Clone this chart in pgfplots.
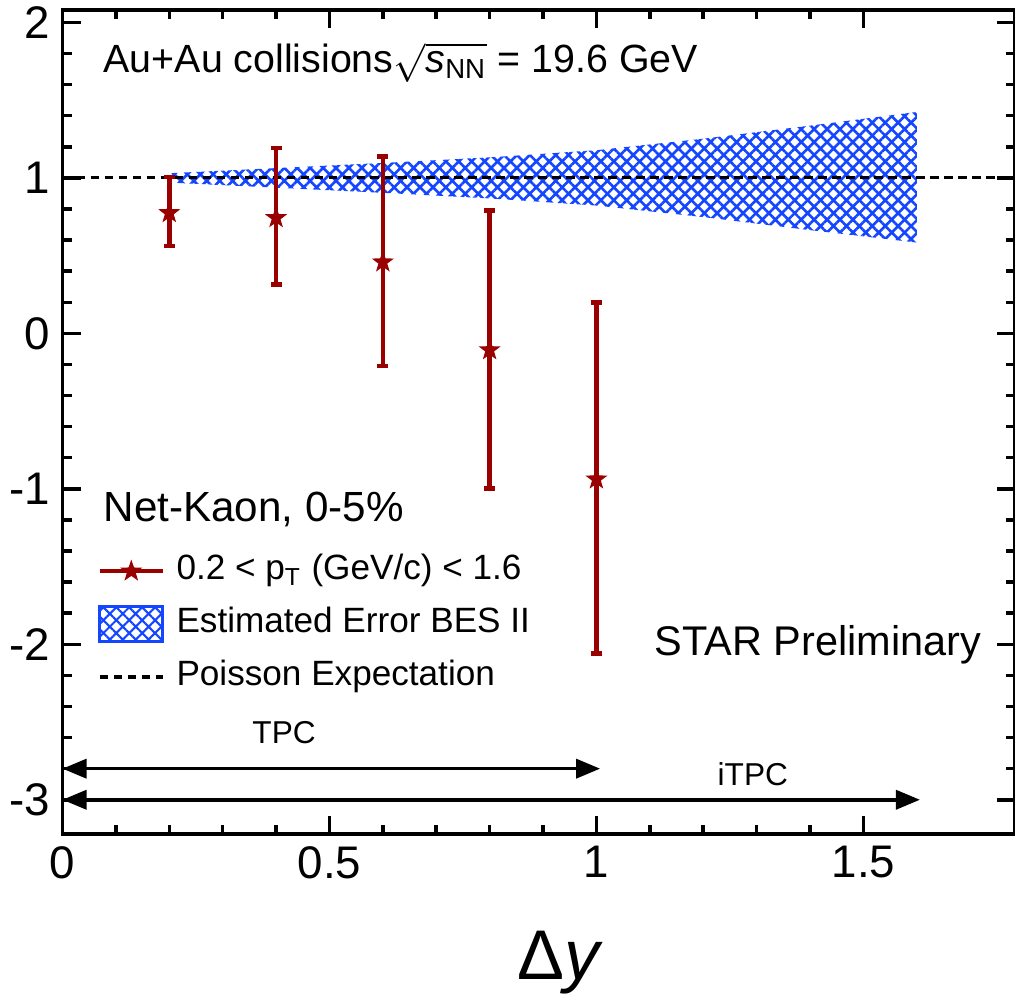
\documentclass[border=0pt]{standalone}
\usepackage{fontspec}
\setmainfont{Liberation Sans}
\usepackage{amsmath}
\usepackage{pgfplots}
\pgfplotsset{compat=1.18}
\usepackage{pgfplotstable}
\usetikzlibrary{patterns.meta,arrows.meta}
\definecolor{dred}{RGB}{153,0,0}
\definecolor{hblue}{RGB}{20,70,255}

\pgfdeclareplotmark{fstar}{%
  \pgfpathmoveto{\pgfpointpolar{90}{\pgfplotmarksize}}%
  \pgfpathlineto{\pgfpointpolar{126}{0.4\pgfplotmarksize}}%
  \pgfpathlineto{\pgfpointpolar{162}{\pgfplotmarksize}}%
  \pgfpathlineto{\pgfpointpolar{198}{0.4\pgfplotmarksize}}%
  \pgfpathlineto{\pgfpointpolar{234}{\pgfplotmarksize}}%
  \pgfpathlineto{\pgfpointpolar{270}{0.4\pgfplotmarksize}}%
  \pgfpathlineto{\pgfpointpolar{306}{\pgfplotmarksize}}%
  \pgfpathlineto{\pgfpointpolar{342}{0.4\pgfplotmarksize}}%
  \pgfpathlineto{\pgfpointpolar{18}{\pgfplotmarksize}}%
  \pgfpathlineto{\pgfpointpolar{54}{0.4\pgfplotmarksize}}%
  \pgfpathclose
  \pgfusepathqfillstroke
}

\pgfplotstableread{
x     y       ep     em
0.2   0.775   0.230  0.214
0.4   0.743   0.450  0.428
0.6   0.458   0.681  0.668
0.8  -0.107   0.897  0.890
1.0  -0.938   1.135  1.122
}\kaon

\pgfplotstableread{
x     y
0.2   1.030
0.4   1.063
0.6   1.096
0.8   1.132
1.0   1.178
1.2   1.252
1.4   1.336
1.6   1.424
1.6   0.584
1.4   0.664
1.2   0.748
1.0   0.822
0.8   0.868
0.6   0.904
0.4   0.937
0.2   0.970
}\band

\begin{document}
\begin{tikzpicture}
\begin{axis}[
  name=ax,
  scale only axis,
  width=95.25mm, height=82.4mm,
  xmin=0, xmax=1.784, ymin=-3.22, ymax=2.08,
  clip=false,
  xtick={0,0.5,1,1.5}, xticklabels={0,0.5,1,1.5},
  ytick={-3,-2,-1,0,1,2}, yticklabels={-3,-2,-1,0,1,2},
  minor x tick num=4, minor y tick num=4,
  tick align=inside,
  major tick length=1.8mm, minor tick length=0.9mm,
  axis line style={line width=1pt},
  every tick/.style={black, line width=1pt},
  tick label style={font=\fontsize{13}{15}\selectfont},
  /pgf/number format/assume math mode=true,
  legend style={draw=none, fill=none, inner sep=0pt,
    at={(axis cs:0.0646,-1.413)}, anchor=north west,
    nodes={inner sep=0pt, text height=2.6mm, text depth=0.9mm, font=\fontsize{10}{12}\selectfont},
    row sep=1.65mm},
  legend cell align=left,
]
\addlegendimage{legend image code/.code={
    \draw[dred, line width=1.2pt] (0mm,0mm) -- (6.3mm,0mm);
    \path[dred, fill=dred, line width=0.4pt] plot[mark=fstar, mark size=2.7pt] coordinates {(3.15mm,0mm)};
    \path (7.6mm,0mm);}}
\addlegendentry{0.2 < p\textsubscript{T} (GeV/c) < 1.6}
\addlegendimage{legend image code/.code={
    \path[pattern={Hatch[angle=45,distance=2.6pt,line width=0.6pt]}, pattern color=hblue] (0mm,-1.75mm) rectangle (6.3mm,1.75mm);
    \draw[hblue, line width=0.8pt] (0mm,-1.75mm) rectangle (6.3mm,1.75mm);
    \path (7.6mm,0mm);}}
\addlegendentry{Estimated Error BES II}
\addlegendimage{legend image code/.code={
    \draw[black, line width=0.9pt, dash pattern=on 0.85mm off 0.55mm] (0mm,0mm) -- (6.3mm,0mm);
    \path (7.6mm,0mm);}}
\addlegendentry{Poisson Expectation}

% band
\addplot[draw=none, pattern={Hatch[angle=45,distance=2.6pt,line width=0.75pt]}, pattern color=hblue, forget plot]
  table[x=x, y=y] {\band} -- cycle;
% Poisson line
\addplot[black, line width=0.9pt, dash pattern=on 0.85mm off 0.55mm, forget plot]
  coordinates {(0,1) (1.784,1)};
% data
\addplot[dred, only marks, mark=fstar, mark size=2.7pt,
  mark options={solid, fill=dred, line width=0.4pt},
  forget plot,
  error bars/.cd, y dir=both, y explicit,
  error mark=-,
  error bar style={line width=1.3pt, dred},
  error mark options={rotate=90, line width=1.3pt, mark size=0.55mm, dred}]
  table[x=x, y=y, y error plus=ep, y error minus=em] {\kaon};

% arrows
\draw[{Triangle[length=2.4mm,width=1.9mm]}-{Triangle[length=2.4mm,width=1.9mm]}, line width=1pt]
  (axis cs:0,-2.80) -- (axis cs:1.007,-2.80);
\draw[{Triangle[length=2.4mm,width=1.9mm]}-{Triangle[length=2.4mm,width=1.9mm]}, line width=1pt]
  (axis cs:0,-3.0) -- (axis cs:1.606,-3.0);
\node[anchor=base, font=\fontsize{9}{11}\selectfont] at (axis cs:0.415,-2.64) {TPC};
\node[anchor=base, font=\fontsize{9}{11}\selectfont] at (axis cs:1.293,-2.91) {iTPC};

% texts
\node[anchor=base west, inner sep=0pt, font=\fontsize{11.2}{13}\selectfont] at (axis cs:0.0758,1.676)
  {Au+Au collisions$\sqrt{\textit{s}_{\text{NN}}}$ = 19.6 GeV};
\node[anchor=base west, inner sep=0pt, font=\fontsize{12}{14}\selectfont] at (axis cs:0.0758,-1.207)
  {Net-Kaon, 0-5\%};
\node[anchor=base east, inner sep=0pt, font=\fontsize{11.8}{14}\selectfont] at (axis cs:1.722,-2.074)
  {STAR Preliminary};
\node[anchor=base, inner sep=0pt, font=\fontsize{20}{24}\selectfont] at ([yshift=-14.6mm]rel axis cs:0.523,0)
  {Δ\textit{y}};
\end{axis}
\pgfresetboundingbox
\path[use as bounding box] ([xshift=-6.25mm,yshift=-16.1mm]ax.south west) rectangle ([yshift=1.0mm]ax.north east);
\end{tikzpicture}
\end{document}
